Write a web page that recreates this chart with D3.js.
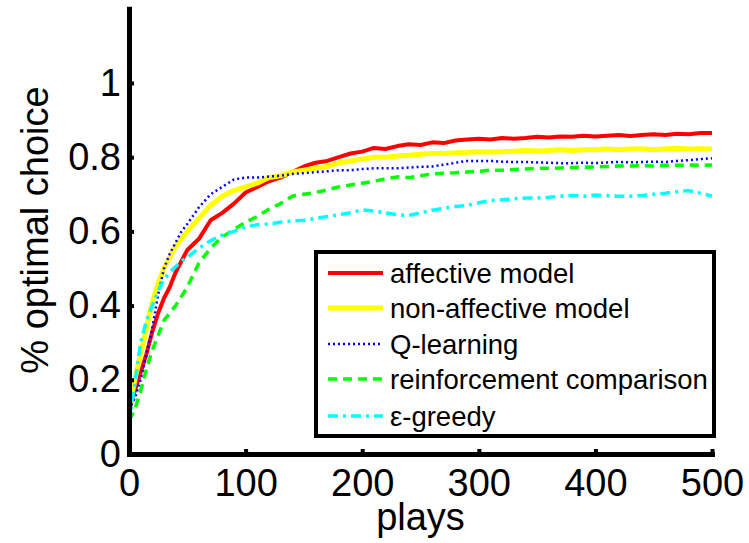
<!DOCTYPE html>
<html>
<head>
<meta charset="utf-8">
<script src="https://cdn.jsdelivr.net/npm/d3@7"></script>
<style>
  body { margin: 0; background: #fff; }
  svg { display: block; font-family: "Liberation Sans", Arial, sans-serif; }
</style>
</head>
<body>
<div id="chart-container"></div>
<script>
// plays (x values)
const plays = [0, 5, 10, 15, 20, 25, 30, 35, 40, 45, 50,
  60, 70, 80, 90, 100, 110, 120, 130, 140, 150, 160, 170, 180, 190, 200,
  210, 220, 230, 240, 250, 260, 270, 280, 290, 300, 310, 320, 330, 340, 350,
  360, 370, 380, 390, 400, 410, 420, 430, 440, 450, 460, 470, 480, 490, 500];

// % optimal choice per method
const affective = [0.12, 0.17, 0.22, 0.27, 0.33, 0.38, 0.42, 0.45, 0.49, 0.52, 0.55,
  0.58, 0.63, 0.65, 0.675, 0.705, 0.72, 0.735, 0.745, 0.76, 0.775, 0.785, 0.79, 0.80, 0.81, 0.815,
  0.825, 0.822, 0.83, 0.835, 0.833, 0.84, 0.838, 0.845, 0.848, 0.85, 0.848, 0.852, 0.85, 0.852, 0.855,
  0.853, 0.856, 0.855, 0.858, 0.856, 0.858, 0.86, 0.857, 0.86, 0.862, 0.86, 0.863, 0.862, 0.865, 0.865];

const nonAffective = [0.12, 0.2, 0.27, 0.34, 0.41, 0.46, 0.5, 0.53, 0.56, 0.58, 0.6,
  0.635, 0.67, 0.695, 0.71, 0.72, 0.73, 0.745, 0.75, 0.76, 0.765, 0.77, 0.775, 0.785, 0.79, 0.795,
  0.80, 0.80, 0.803, 0.805, 0.808, 0.81, 0.81, 0.812, 0.813, 0.815, 0.814, 0.815, 0.816, 0.818, 0.817,
  0.818, 0.82, 0.818, 0.82, 0.82, 0.822, 0.82, 0.822, 0.823, 0.82, 0.822, 0.824, 0.822, 0.823, 0.822];

const qLearning = [0.12, 0.15, 0.2, 0.27, 0.34, 0.43, 0.5, 0.54, 0.57, 0.6, 0.62,
  0.665, 0.7, 0.72, 0.74, 0.745, 0.745, 0.748, 0.75, 0.755, 0.757, 0.76, 0.762, 0.765, 0.765, 0.768,
  0.77, 0.77, 0.77, 0.772, 0.774, 0.775, 0.78, 0.785, 0.79, 0.79, 0.79, 0.788, 0.787, 0.787, 0.786,
  0.785, 0.784, 0.784, 0.785, 0.784, 0.786, 0.787, 0.786, 0.787, 0.788, 0.787, 0.79, 0.792, 0.795, 0.797];

const reinforcement = [0.09, 0.12, 0.17, 0.23, 0.28, 0.32, 0.36, 0.38, 0.40, 0.425, 0.45,
  0.515, 0.555, 0.585, 0.605, 0.625, 0.64, 0.66, 0.675, 0.695, 0.70, 0.705, 0.712, 0.72, 0.725, 0.73,
  0.735, 0.742, 0.747, 0.745, 0.75, 0.755, 0.757, 0.758, 0.76, 0.762, 0.765, 0.765, 0.767, 0.768, 0.77,
  0.77, 0.771, 0.772, 0.773, 0.774, 0.775, 0.776, 0.776, 0.777, 0.776, 0.778, 0.778, 0.779, 0.778, 0.779];

const epsGreedy = [0.08, 0.19, 0.3, 0.36, 0.40, 0.44, 0.47, 0.49, 0.505, 0.52, 0.53,
  0.555, 0.575, 0.59, 0.60, 0.612, 0.618, 0.62, 0.625, 0.628, 0.63, 0.635, 0.64, 0.645, 0.65, 0.658,
  0.655, 0.65, 0.645, 0.643, 0.65, 0.657, 0.662, 0.667, 0.67, 0.677, 0.683, 0.685, 0.688, 0.69, 0.69,
  0.692, 0.695, 0.697, 0.695, 0.698, 0.696, 0.695, 0.695, 0.697, 0.70, 0.703, 0.707, 0.71, 0.703, 0.695];

const seriesNames = ["affective model", "non-affective model", "Q-learning",
  "reinforcement comparison", "\u03b5-greedy"];
const xTicks = [0, 100, 200, 300, 400, 500];
const yTicks = [0, 0.2, 0.4, 0.6, 0.8, 1];

// line styles for each series
const styles = [
  { color: "#ff0000", width: 4, dash: null },
  { color: "#ffff00", width: 5, dash: null },
  { color: "#0000ff", width: 2.5, dash: "2,3" },
  { color: "#00ff00", width: 3.5, dash: "9,6" },
  { color: "#00ffff", width: 3.5, dash: "10,5,3,5" }
];

const W = 749, H = 543;
const x = d3.scaleLinear().domain([0, 500]).range([129, 712]);
const y = d3.scaleLinear().domain([0, 1.2]).range([454, 8.8]);

const svg = d3.select("#chart-container")
  .append("svg")
  .attr("width", W)
  .attr("height", H);

const allSeries = [affective, nonAffective, qLearning, reinforcement, epsGreedy];

const line = d3.line()
  .x((d, i) => x(plays[i]))
  .y(d => y(d));

// curves
allSeries.forEach((vals, k) => {
  svg.append("path")
    .datum(vals)
    .attr("d", line)
    .attr("fill", "none")
    .attr("stroke", styles[k].color)
    .attr("stroke-width", styles[k].width)
    .attr("stroke-dasharray", styles[k].dash)
    .attr("stroke-linejoin", "round");
});

// axes (ticks pointing inward)
const xAxis = svg.append("g")
  .attr("transform", `translate(0,${y(0)})`)
  .call(d3.axisBottom(x).tickValues(xTicks).tickFormat(d3.format("d"))
    .tickSizeInner(-5).tickSizeOuter(0).tickPadding(15));

const yAxis = svg.append("g")
  .attr("transform", `translate(${x(0)},0)`)
  .call(d3.axisLeft(y).tickValues(yTicks).tickFormat(d => d === 0 || d === 1 ? d : d3.format(".1f")(d))
    .tickSizeInner(-5).tickSizeOuter(0).tickPadding(8));

[xAxis, yAxis].forEach(g => {
  g.select(".domain").attr("stroke", "#000").attr("stroke-width", 5).attr("stroke-linecap", "square");
  g.selectAll(".tick line").attr("stroke", "#000").attr("stroke-width", 4);
  g.selectAll(".tick text")
    .attr("fill", "#000")
    .style("font-size", "38px")
    .style("font-family", "'Liberation Sans', Arial, sans-serif");
});

// axis labels
svg.append("text")
  .attr("x", (x(0) + x(500)) / 2)
  .attr("y", 530)
  .style("text-anchor", "middle")
  .style("font-size", "38px")
  .text("plays");

svg.append("text")
  .attr("transform", `translate(48,${230}) rotate(-90)`)
  .style("text-anchor", "middle")
  .style("font-size", "38px")
  .text("% optimal choice");

// legend
const legend = svg.append("g");
legend.append("rect")
  .attr("x", 316)
  .attr("y", 252)
  .attr("width", 398)
  .attr("height", 184)
  .attr("fill", "#fff")
  .attr("stroke", "#000")
  .attr("stroke-width", 4);

const rowY = [273, 308, 344, 379, 416];
seriesNames.forEach((name, k) => {
  legend.append("line")
    .attr("x1", 328).attr("x2", 383)
    .attr("y1", rowY[k]).attr("y2", rowY[k])
    .attr("stroke", styles[k].color)
    .attr("stroke-width", styles[k].width)
    .attr("stroke-dasharray", styles[k].dash);
  legend.append("text")
    .attr("x", 390)
    .attr("y", rowY[k])
    .attr("dy", "0.35em")
    .style("font-size", "27.5px")
    .text(name);
});
</script>
</body>
</html>
